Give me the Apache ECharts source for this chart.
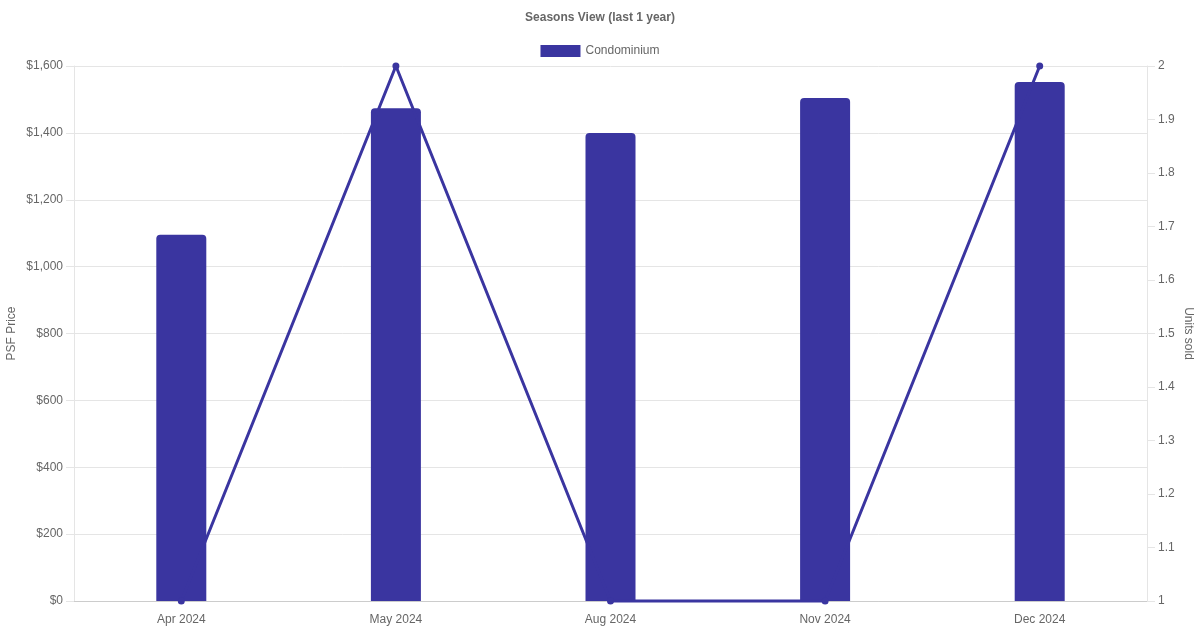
<!DOCTYPE html>
<html>
<head>
<meta charset="utf-8">
<script src="https://cdn.jsdelivr.net/npm/echarts@6/dist/echarts.min.js"></script>
<style>html,body{margin:0;padding:0;background:#fff}#c{width:1200px;height:630px}</style>
</head>
<body>
<div id="c"></div>
<script>
const categories = ['Apr 2024', 'May 2024', 'Aug 2024', 'Nov 2024', 'Dec 2024'];
const psfPrice = [1095, 1474, 1400, 1504, 1552];
const unitsSold = [1, 2, 1, 1, 2];
const seriesName = 'Condominium';
const titleText = 'Seasons View (last 1 year)';

const color = '#3a35a0';
const font = 'Liberation Sans, Arial, Helvetica, sans-serif';
const chart = echarts.init(document.getElementById('c'));
chart.setOption({
  animation: false,
  textStyle: { fontFamily: font },
  title: {
    text: titleText, left: 'center', top: 7,
    textStyle: { fontSize: 12, fontWeight: 'bold', color: '#666', fontFamily: font }
  },
  legend: {
    data: [{ name: seriesName, icon: 'rect' }],
    top: 40, left: 'center', itemWidth: 40, itemHeight: 12, itemGap: 6,
    textStyle: { fontSize: 12, color: '#666', fontFamily: font }
  },
  grid: { left: 74, right: 53, top: 66, bottom: 29, containLabel: false, outerBoundsMode: 'none' },
  xAxis: {
    type: 'category', data: categories,
    axisLine: { lineStyle: { color: '#ccc' } },
    axisTick: { show: false },
    axisLabel: { color: '#666', fontSize: 12, margin: 13, fontFamily: font },
    splitLine: { show: false }
  },
  yAxis: [{
    type: 'value', min: 0, max: 1600, interval: 200,
    name: 'PSF Price', nameLocation: 'middle', nameGap: 56, nameRotate: 90, nameMoveOverlap: false,
    nameTextStyle: { color: '#666', fontSize: 12, fontFamily: font },
    axisLine: { show: true, lineStyle: { color: '#e5e5e5' } },
    axisTick: { show: true, length: 8, lineStyle: { color: '#e5e5e5' } },
    axisLabel: { color: '#666', fontSize: 12, margin: 11, fontFamily: font,
      formatter: v => '$' + v.toLocaleString('en-US') },
    splitLine: { lineStyle: { color: '#e5e5e5' } }
  }, {
    type: 'value', min: 1, max: 2, interval: 0.1,
    name: 'Units sold', nameLocation: 'middle', nameGap: 35, nameRotate: -90, nameMoveOverlap: false,
    nameTextStyle: { color: '#666', fontSize: 12, fontFamily: font },
    axisLine: { show: true, lineStyle: { color: '#e5e5e5' } },
    axisTick: { show: true, length: 8, lineStyle: { color: '#e5e5e5' } },
    axisLabel: { color: '#666', fontSize: 12, margin: 11, fontFamily: font,
      formatter: v => String(Math.round(v * 10) / 10) },
    splitLine: { show: false }
  }],
  series: [{
    name: seriesName, type: 'bar', data: psfPrice, yAxisIndex: 0,
    barWidth: 50,
    itemStyle: { color: color, borderRadius: [4, 4, 0, 0] }
  }, {
    name: 'Units', type: 'line', data: unitsSold, yAxisIndex: 1,
    symbol: 'circle', symbolSize: 7, clip: false,
    lineStyle: { color: color, width: 3 },
    itemStyle: { color: color }
  }]
});
</script>
</body>
</html>
